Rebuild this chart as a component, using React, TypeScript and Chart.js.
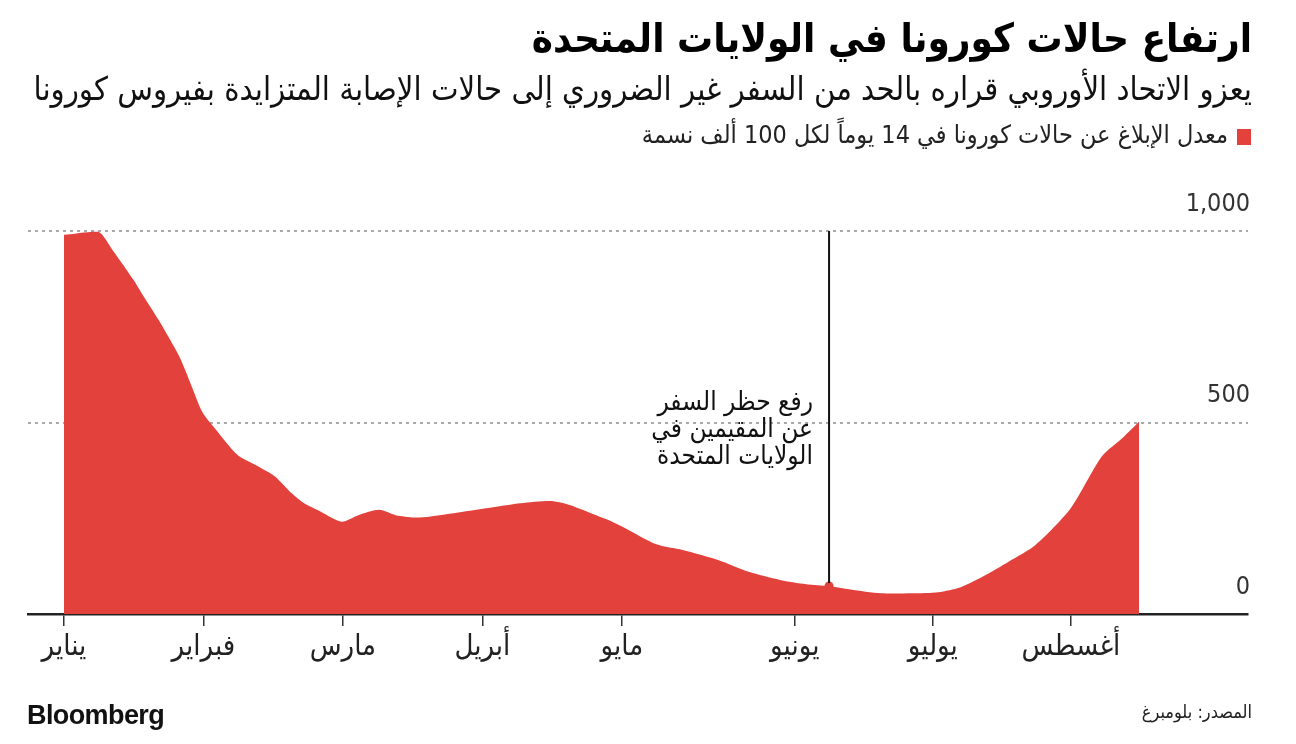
import React, { useEffect, useRef } from "react";
import { Chart, registerables } from "chart.js";

Chart.register(...registerables);

// x values are in "month positions" (Jan 1 = 0)
const monthLabels = ["يناير", "فبراير", "مارس", "أبريل", "مايو", "يونيو", "يوليو", "أغسطس"];
const monthTickPos = [0, 1, 2, 3, 4, 5.24, 6.23, 7.22];

const seriesX = [
  0, 0.245, 0.349, 0.499, 0.558, 0.678, 0.827, 0.916, 0.991, 1.081, 1.245, 1.394, 1.513, 1.633,
  1.722, 1.842, 1.991, 2.11, 2.26, 2.379, 2.513, 2.618, 2.827, 3.066, 3.275, 3.484, 3.603, 3.752,
  3.931, 4.025, 4.247, 4.437, 4.69, 4.91, 5.133, 5.322, 5.486, 5.638, 5.859, 6.081, 6.27, 6.429,
  6.586, 6.776, 6.966, 7.219, 7.441, 7.6, 7.709,
];
const seriesValues = [
  990, 998, 950, 872, 837, 768, 672, 594, 528, 485, 415, 385, 359, 315,
  289, 267, 241, 258, 272, 258, 252, 254, 265, 278, 289, 295, 287, 267,
  241, 224, 182, 167, 141, 110, 89, 78, 73, 64, 54, 54, 57, 70,
  97, 137, 180, 276, 411, 463, 502,
];

const yTicks = [0, 500, 1000];
const yTickLabels = ["0", "500", "1,000"];

const annotationX = 5.486;
const annotationValue = 73;
const annotationTop = 1000;

const xMin = -0.258;
const xMax = 8.49;

const RED = "#e3413b";

export default function App() {
  const canvasRef = useRef<HTMLCanvasElement | null>(null);

  useEffect(() => {
    if (!canvasRef.current) return;
    const overlay = {
      id: "overlay",
      beforeDatasetsDraw(chart: any) {
        const { ctx, chartArea, scales } = chart;
        const y = scales.y;
        ctx.save();
        ctx.strokeStyle = "#aaaaaa";
        ctx.lineWidth = 2;
        ctx.setLineDash([3, 4]);
        yTicks.forEach((v) => {
          if (v === 0) return;
          const py = Math.round(y.getPixelForValue(v));
          ctx.beginPath();
          ctx.moveTo(chartArea.left, py);
          ctx.lineTo(chartArea.right, py);
          ctx.stroke();
        });
        ctx.setLineDash([]);
        ctx.fillStyle = "#333";
        ctx.font = "25px 'Liberation Sans Narrow', 'DejaVu Sans Condensed', sans-serif";
        ctx.textAlign = "right";
        ctx.textBaseline = "middle";
        yTicks.forEach((v, i) => {
          const py = y.getPixelForValue(v);
          ctx.fillText(yTickLabels[i], chartArea.right + 2, py - 27);
        });
        ctx.restore();
      },
      afterDatasetsDraw(chart: any) {
        const { ctx, scales } = chart;
        const px = scales.x.getPixelForValue(annotationX);
        ctx.save();
        ctx.strokeStyle = "#111";
        ctx.lineWidth = 2;
        ctx.beginPath();
        ctx.moveTo(px, scales.y.getPixelForValue(annotationTop));
        ctx.lineTo(px, scales.y.getPixelForValue(annotationValue) - 3);
        ctx.stroke();
        ctx.restore();
      },
    };

    const chart = new Chart(canvasRef.current, {
      type: "line",
      data: {
        datasets: [
          {
            data: [{ x: annotationX, y: annotationValue }],
            showLine: false,
            pointRadius: 4.5,
            pointBackgroundColor: RED,
            pointBorderWidth: 0,
            order: 0,
          },
          {
            data: seriesX.map((x, i) => ({ x, y: seriesValues[i] })),
            borderWidth: 0,
            borderColor: RED,
            backgroundColor: RED,
            fill: "origin",
            pointRadius: 0,
            tension: 0.25,
            order: 1,
          },
        ],
      },
      options: {
        animation: false,
        responsive: false,
        maintainAspectRatio: false,
        layout: { padding: { left: 28, right: 48, top: 231, bottom: 0 } },
        plugins: { legend: { display: false }, tooltip: { enabled: false } },
        scales: {
          x: {
            type: "linear",
            min: xMin,
            max: xMax,
            afterBuildTicks: (scale: any) => {
              scale.ticks = monthTickPos.map((v) => ({ value: v }));
            },
            afterFit: (scale: any) => {
              scale.height = 130;
            },
            ticks: {
              autoSkip: false,
              maxRotation: 0,
              padding: 4,
              color: "#222",
              font: { size: 29, family: "'DejaVu Sans Condensed', 'DejaVu Sans', sans-serif" },
              callback: (value: any) => {
                const idx = monthTickPos.indexOf(Number(value));
                return idx >= 0 ? monthLabels[idx] : "";
              },
            },
            grid: {
              drawOnChartArea: false,
              drawTicks: true,
              tickLength: 12,
              tickColor: "#333",
              lineWidth: 1.5,
            },
            border: { display: true, color: "#222", width: 2.5 },
          },
          y: {
            display: false,
            min: 0,
            max: 1000,
          },
        },
      },
      plugins: [overlay],
    });
    return () => chart.destroy();
  }, []);

  const arabic = "'DejaVu Sans Condensed', 'DejaVu Sans', sans-serif";

  return (
    <div style={{ position: "absolute", left: 0, top: 0, width: 1296, height: 744, background: "#fff", overflow: "hidden" }}>
      <canvas ref={canvasRef} width={1296} height={744} style={{ position: "absolute", left: 0, top: 0, width: 1296, height: 744 }} />
      <div dir="rtl" style={{ position: "absolute", right: 44, top: 15, fontFamily: arabic, fontWeight: 700, fontSize: 40, color: "#000", whiteSpace: "nowrap" }}>
        ارتفاع حالات كورونا في الولايات المتحدة
      </div>
      <div dir="rtl" style={{ position: "absolute", right: 44, top: 70, fontFamily: arabic, fontSize: 32.5, color: "#111", whiteSpace: "nowrap" }}>
        يعزو الاتحاد الأوروبي قراره بالحد من السفر غير الضروري إلى حالات الإصابة المتزايدة بفيروس كورونا
      </div>
      <div style={{ position: "absolute", left: 1237, top: 129, width: 14, height: 16, background: RED }} />
      <div dir="rtl" style={{ position: "absolute", right: 68, top: 120, fontFamily: arabic, fontSize: 25, color: "#222", whiteSpace: "nowrap" }}>
        معدل الإبلاغ عن حالات كورونا في 14 يوماً لكل 100 ألف نسمة
      </div>
      <div dir="rtl" style={{ position: "absolute", right: 1296 - 813, top: 388, fontFamily: arabic, fontSize: 26, lineHeight: "27px", color: "#111", textAlign: "right", whiteSpace: "nowrap" }}>
        رفع حظر السفر
        <br />
        عن المقيمين في
        <br />
        الولايات المتحدة
      </div>
      <div style={{ position: "absolute", left: 27, top: 700, fontFamily: "'Liberation Sans', Arial, sans-serif", fontWeight: 700, fontSize: 27, letterSpacing: -0.6, color: "#111" }}>
        Bloomberg
      </div>
      <div dir="rtl" style={{ position: "absolute", right: 44, top: 701, fontFamily: arabic, fontSize: 18, color: "#222", whiteSpace: "nowrap" }}>
        المصدر: بلومبرغ
      </div>
    </div>
  );
}
